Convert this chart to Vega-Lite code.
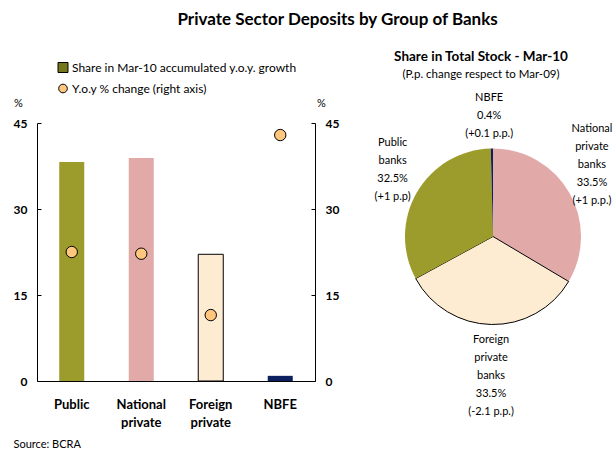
{
  "$schema": "https://vega.github.io/schema/vega-lite/v6.json",
  "padding": {"left": 13, "top": 10, "right": 0, "bottom": 0},
  "background": "white",
  "config": {
    "view": {"stroke": null},
    "font": "Lato",
    "axis": {"labelFont": "Lato", "titleFont": "Lato"},
    "legend": {"labelFont": "Lato"},
    "title": {"font": "Lato", "subtitleFont": "Lato"}
  },
  "title": {
    "text": "Private Sector Deposits by Group of Banks",
    "fontSize": 17,
    "fontWeight": "bold",
    "color": "black",
    "anchor": "middle",
    "dx": 19,
    "offset": 21
  },
  "bounds": "flush",
  "spacing": 78,
  "hconcat": [
    {
      "width": 278,
      "height": 258,
      "data": {
        "values": [
          {"bank": "Public", "measure": "Share in Mar-10 accumulated y.o.y. growth", "value": 38.2},
          {"bank": "National private", "measure": "Share in Mar-10 accumulated y.o.y. growth", "value": 38.9},
          {"bank": "Foreign private", "measure": "Share in Mar-10 accumulated y.o.y. growth", "value": 22.1},
          {"bank": "NBFE", "measure": "Share in Mar-10 accumulated y.o.y. growth", "value": 0.9},
          {"bank": "Public", "measure": "Y.o.y % change (right axis)", "value": 22.5},
          {"bank": "National private", "measure": "Y.o.y % change (right axis)", "value": 22.2},
          {"bank": "Foreign private", "measure": "Y.o.y % change (right axis)", "value": 11.5},
          {"bank": "NBFE", "measure": "Y.o.y % change (right axis)", "value": 42.9}
        ]
      },
      "layer": [
        {
          "transform": [{"filter": "datum.measure == 'Share in Mar-10 accumulated y.o.y. growth'"}],
          "mark": {"type": "bar", "width": {"band": 0.4}, "strokeWidth": 1},
          "encoding": {
            "x": {
              "field": "bank", "type": "nominal", "sort": null, "title": "Source: BCRA",
              "axis": {
                "labelAngle": 0, "labelFontWeight": "bold", "labelFontSize": 13, "labelColor": "black",
                "labelPadding": 17, "labelLineHeight": 18, "labelExpr": "split(datum.label, ' ')",
                "ticks": false, "domainColor": "black",
                "titleX": -24, "titleY": 63, "titleAlign": "left", "titleBaseline": "middle",
                "titleFontWeight": "normal", "titleFontSize": 11, "titleColor": "black"
              }
            },
            "y": {
              "field": "value", "type": "quantitative", "scale": {"domain": [0, 45], "nice": false},
              "axis": {
                "orient": "left", "values": [0, 15, 30, 45], "title": "%", "titleAngle": 0,
                "titleX": -19, "titleY": -20, "titleAlign": "center", "titleBaseline": "middle",
                "titleFontWeight": "normal", "titleFontSize": 11, "titleColor": "black",
                "labelFontWeight": "bold", "labelFontSize": 12, "labelColor": "black",
                "labelPadding": 14, "tickSize": -4, "tickColor": "black", "domainColor": "black", "grid": false
              }
            },
            "color": {
              "field": "bank", "type": "nominal",
              "scale": {"domain": ["Public", "National private", "Foreign private", "NBFE"], "range": ["#9c9c2c", "#e1aaa9", "#fdecd2", "#0c1f5e"]},
              "legend": null
            },
            "stroke": {"condition": {"test": "datum.bank == 'Foreign private'", "value": "black"}, "value": "transparent"}
          }
        },
        {
          "transform": [{"filter": "datum.measure == 'Y.o.y % change (right axis)'"}],
          "mark": {"type": "point", "filled": true, "size": 130, "stroke": "black", "strokeWidth": 1, "opacity": 1},
          "encoding": {
            "x": {"field": "bank", "type": "nominal", "sort": null, "title": "Source: BCRA"},
            "y": {
              "field": "value", "type": "quantitative", "scale": {"domain": [0, 45], "nice": false},
              "axis": {
                "orient": "right", "values": [0, 15, 30, 45], "title": "%", "titleAngle": 0,
                "titleX": 6, "titleY": -20, "titleAlign": "center", "titleBaseline": "middle",
                "titleFontWeight": "normal", "titleFontSize": 11, "titleColor": "black",
                "labelFontWeight": "bold", "labelFontSize": 12, "labelColor": "black",
                "labelPadding": 14, "tickSize": -4, "tickColor": "black", "domainColor": "black", "grid": false
              }
            },
            "color": {
              "field": "measure", "type": "nominal",
              "scale": {"domain": ["Share in Mar-10 accumulated y.o.y. growth", "Y.o.y % change (right axis)"], "range": ["#76761c", "#ffc77d"]},
              "legend": {
                "orient": "none", "legendX": 20, "legendY": -61.5, "title": null,
                "labelFontSize": 12, "labelColor": "black", "labelLimit": 400,
                "symbolStrokeColor": "black", "symbolStrokeWidth": 1, "rowPadding": 7, "labelOffset": 3, "symbolOpacity": 1,
                "encode": {
                  "symbols": {
                    "update": {
                      "shape": {"signal": "datum.index == 0 ? 'square' : 'circle'"},
                      "size": {"signal": "datum.index == 0 ? 100 : 75"},
                      "stroke": {"value": "black"},
                      "strokeWidth": {"value": 1}
                    }
                  }
                }
              }
            }
          }
        }
      ],
      "resolve": {"scale": {"y": "independent", "color": "independent"}}
    },
    {
      "width": 200,
      "height": 227,
      "title": {
        "text": "Share in Total Stock  - Mar-10",
        "subtitle": "(P.p. change respect to Mar-09)",
        "fontSize": 13.5, "fontWeight": "bold", "color": "black",
        "subtitleFontSize": 11.5, "subtitleColor": "black", "subtitlePadding": 6,
        "anchor": "middle", "dx": -12, "offset": 11
      },
      "data": {
        "values": [
          {"bank": "National private banks", "share": 33.5, "ord": 1, "label": "National\nprivate\nbanks\n33.5%\n(+1 p.p.)"},
          {"bank": "Foreign private banks", "share": 33.5, "ord": 2, "label": "Foreign\nprivate\nbanks\n33.5%\n(-2.1 p.p.)"},
          {"bank": "Public banks", "share": 32.5, "ord": 3, "label": "Public\nbanks\n32.5%\n(+1 p.p)"},
          {"bank": "NBFE", "share": 0.4, "ord": 4, "label": "NBFE\n0.4%\n(+0.1 p.p.)"}
        ]
      },
      "encoding": {
        "theta": {"field": "share", "type": "quantitative", "stack": true},
        "order": {"field": "ord", "type": "quantitative"}
      },
      "layer": [
        {
          "mark": {"type": "arc", "outerRadius": 88, "strokeWidth": 1},
          "encoding": {
            "color": {
              "field": "bank", "type": "nominal",
              "scale": {"domain": ["Public banks", "National private banks", "Foreign private banks", "NBFE"], "range": ["#9c9c2c", "#e1aaa9", "#fdecd2", "#0c1f5e"]},
              "legend": null
            },
            "stroke": {"condition": {"test": "datum.bank == 'Foreign private banks'", "value": "black"}, "value": "transparent"}
          }
        },
        {
          "mark": {"type": "text", "radius": 139, "thetaOffset": -0.015, "lineBreak": "\n", "lineHeight": 18, "align": "center", "baseline": "middle", "color": "black"},
          "encoding": {
            "text": {"condition": {"test": "datum.bank == 'NBFE'", "field": "label"}, "value": ""},
            "size": {"condition": {"test": "datum.bank == 'NBFE'", "value": 11}, "value": 0}
          }
        },
        {
          "mark": {"type": "text", "radius": 137, "thetaOffset": 0.225, "lineBreak": "\n", "lineHeight": 18, "align": "center", "baseline": "middle", "color": "black"},
          "encoding": {
            "text": {"condition": {"test": "datum.bank == 'Public banks'", "field": "label"}, "value": ""},
            "size": {"condition": {"test": "datum.bank == 'Public banks'", "value": 11}, "value": 0}
          }
        },
        {
          "mark": {"type": "text", "radius": 146, "thetaOffset": -0.309, "lineBreak": "\n", "lineHeight": 18, "align": "center", "baseline": "middle", "color": "black"},
          "encoding": {
            "text": {"condition": {"test": "datum.bank == 'National private banks'", "field": "label"}, "value": ""},
            "size": {"condition": {"test": "datum.bank == 'National private banks'", "value": 11}, "value": 0}
          }
        },
        {
          "mark": {"type": "text", "radius": 103.5, "lineBreak": "\n", "lineHeight": 18, "align": "center", "baseline": "middle", "color": "black"},
          "encoding": {
            "text": {"condition": {"test": "datum.bank == 'Foreign private banks'", "field": "label"}, "value": ""},
            "size": {"condition": {"test": "datum.bank == 'Foreign private banks'", "value": 11}, "value": 0}
          }
        }
      ]
    }
  ]
}
